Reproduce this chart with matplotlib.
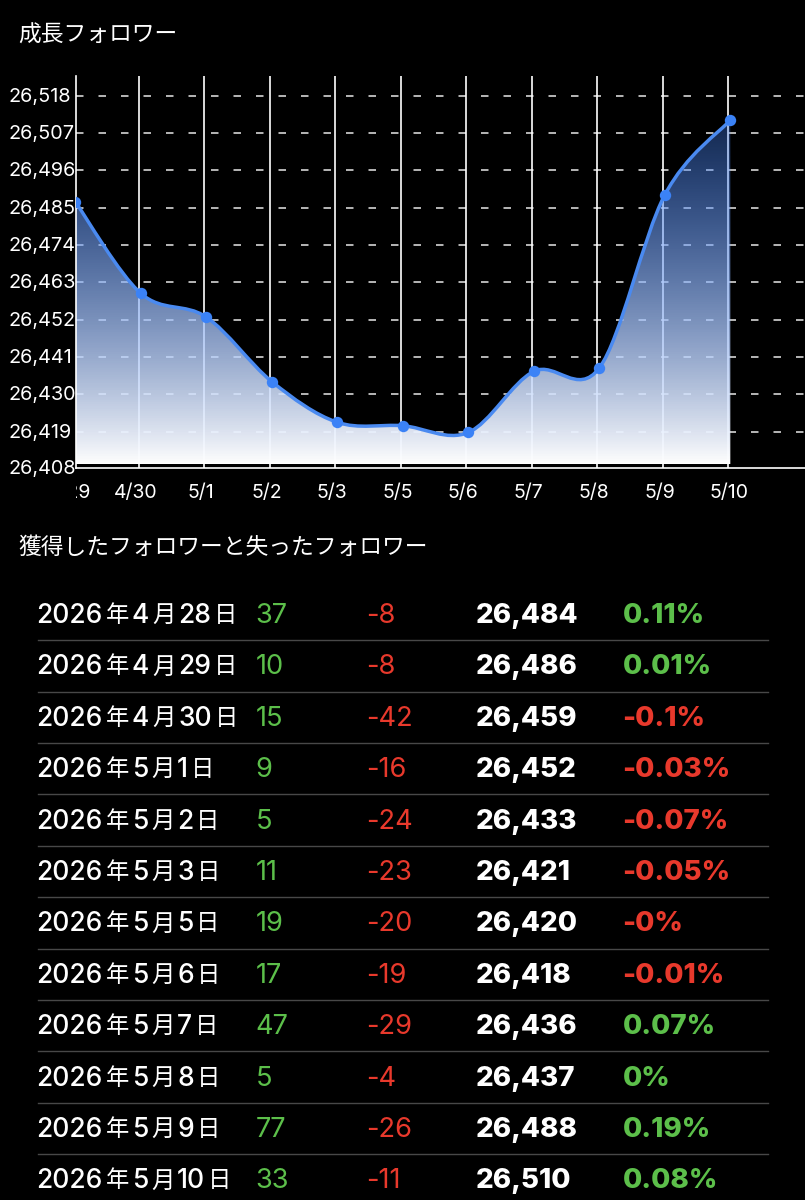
import numpy as np
import matplotlib
matplotlib.use("Agg")
import matplotlib.pyplot as plt
from matplotlib.path import Path
from matplotlib.patches import PathPatch
from matplotlib.transforms import Bbox

plt.rcParams['font.family'] = ['Inter', 'Noto Sans CJK JP', 'DejaVu Sans']
plt.rcParams['lines.scale_dashes'] = False

W, H = 805, 1200

# table rows
months = [4, 4, 4, 5, 5, 5, 5, 5, 5, 5, 5, 5]
days = [28, 29, 30, 1, 2, 3, 5, 6, 7, 8, 9, 10]
gained = [37, 10, 15, 9, 5, 11, 19, 17, 47, 5, 77, 33]
lost = [-8, -8, -42, -16, -24, -23, -20, -19, -29, -4, -26, -11]
totals = [26484, 26486, 26459, 26452, 26433, 26421, 26420, 26418, 26436, 26437, 26488, 26510]
pct = ["0.11%", "0.01%", "-0.1%", "-0.03%", "-0.07%", "-0.05%", "-0%", "-0.01%", "0.07%", "0%", "0.19%", "0.08%"]

# chart
day_labels = ["4/29", "4/30", "5/1", "5/2", "5/3", "5/5", "5/6", "5/7", "5/8", "5/9", "5/10"]
followers = totals[1:]
tick_labels = ["26,518", "26,507", "26,496", "26,485", "26,474", "26,463", "26,452", "26,441", "26,430", "26,419", "26,408"]
tick_values = [26517.2, 26506.2, 26495.2, 26484.2, 26473.2, 26462.2, 26451.2, 26440.2, 26429.2, 26418.2, 26407.2]

BLUE = "#3b82f6"
GREEN = "#5cbf4a"
RED = "#e8392c"
YMIN, YMAX = 26407.54, 26523.0
XMIN, XMAX = 0.012, 11.14
BASE = 26408.6


def smooth_path(xs, ys, baseline=None):
    # catmull-rom as bezier segments
    verts = [(xs[0], ys[0])]
    codes = [Path.MOVETO]
    n = len(xs)
    for i in range(n - 1):
        x0, y0 = xs[max(i - 1, 0)], ys[max(i - 1, 0)]
        x1, y1 = xs[i], ys[i]
        x2, y2 = xs[i + 1], ys[i + 1]
        x3, y3 = xs[min(i + 2, n - 1)], ys[min(i + 2, n - 1)]
        verts += [(x1 + (x2 - x0) / 6, y1 + (y2 - y0) / 6),
                  (x2 - (x3 - x1) / 6, y2 - (y3 - y1) / 6),
                  (x2, y2)]
        codes += [Path.CURVE4] * 3
    if baseline is not None:
        verts += [(xs[-1], baseline), (xs[0], baseline), (xs[0], ys[0])]
        codes += [Path.LINETO, Path.LINETO, Path.CLOSEPOLY]
    return Path(verts, codes)


def draw_date(y, parts):
    # digits and kanji have different sizes in the reference, so place piece by piece
    cx = 36.5
    for s, is_kanji in parts:
        if is_kanji:
            t_ = ov.text(cx, y - 0.5, s, color="white", fontsize=16.8, va="center", family="Noto Sans CJK JP")
        else:
            t_ = ov.text(cx, y, s, color="white", fontsize=19, va="center", family="Inter", fontweight="medium")
        ext = t_.get_window_extent(renderer)
        cx = ext.x1 + 2.8


fig = plt.figure(figsize=(W / 100, H / 100), dpi=100, facecolor="black")
renderer = fig.canvas.get_renderer()

ax = fig.add_axes([76 / W, 1 - 468 / H, (W - 76) / W, (468 - 76) / H], facecolor="black")
ax.set_xlim(XMIN, XMAX)
ax.set_ylim(YMIN, YMAX)
ax.set_xticks([])
ax.set_yticks([])
for side in ["top", "right"]:
    ax.spines[side].set_visible(False)
for side in ["left", "bottom"]:
    ax.spines[side].set_color("white")
    ax.spines[side].set_linewidth(1.2)

x = np.arange(len(followers))

# grid
for v in tick_values[:-1]:
    ax.plot([XMIN, XMAX], [v, v], color="#e8e8e8", lw=1.1, ls=(0, (5.4, 10.8)), dash_capstyle="butt", zorder=1)
ax.vlines(x[1:] - 0.03, YMIN, YMAX, color="white", lw=1.2, zorder=1)

xs = list(x)
curve = smooth_path(xs, followers)
area = smooth_path(xs, followers, baseline=BASE)

# gradient fill, see-through at the top so the grid shows
grad = np.zeros((256, 1, 4))
t = np.linspace(0, 1, 256)[:, None]
grad[..., 0] = 0.25 + 0.75 * t ** 1.2
grad[..., 1] = 0.50 + 0.50 * t ** 1.2
grad[..., 2] = 0.96 + 0.04 * t
grad[..., 3] = 0.30 + 0.70 * t ** 0.8
im = ax.imshow(grad, extent=[0, 11, BASE, max(followers)], aspect="auto", origin="upper", zorder=2)
im.set_clip_path(PathPatch(area, transform=ax.transData))
ax.set_xlim(XMIN, XMAX)
ax.set_ylim(YMIN, YMAX)

ax.add_patch(PathPatch(curve, fc="none", ec="#4a8af0", lw=2.5, zorder=3))
ax.plot(x, followers, "o", color=BLUE, ms=8.2, mew=0, zorder=4)

# y labels, left aligned
ytrans = ax.get_yaxis_transform()
for v, lab in zip(tick_values, tick_labels):
    ypos = max(v, YMIN) - 0.3
    ax.text(-68 / 729, ypos, lab, transform=ytrans, color="white", fontsize=14.3, ha="left", va="center", clip_on=False)

# x labels, first one gets cut by the axis
xtrans = ax.get_xaxis_transform()
clip = Bbox([[76, 0], [W, H]])
for i, lab in enumerate(day_labels):
    xpos = i - 0.08 + (0.06 if lab == "5/10" else 0)
    t_ = ax.text(xpos, -25 / 392, lab, transform=xtrans, color="white", fontsize=14, ha="center", va="center")
    t_.set_clip_on(True)
    t_.set_clip_box(clip)

# overlay for titles + table, pixel coords
ov = fig.add_axes([0, 0, 1, 1], facecolor="none")
ov.set_xlim(0, W)
ov.set_ylim(H, 0)
ov.axis("off")

ov.text(18, 35, "成長フォロワー", color="white", fontsize=16.4, va="center", family="Noto Sans CJK JP")
ov.text(18, 547, "獲得したフォロワーと失ったフォロワー", color="white", fontsize=16.4, va="center", family="Noto Sans CJK JP")

row_h = 51.4
for i in range(len(days)):
    y = 616 + i * row_h
    draw_date(y, [("2026", False), ("年", True), (str(months[i]), False), ("月", True), (str(days[i]), False), ("日", True)])
    ov.text(255.5, y, str(gained[i]), color=GREEN, fontsize=19.6, va="center")
    ov.text(366, y, str(lost[i]), color=RED, fontsize=19.6, va="center")
    ov.text(476, y, f"{totals[i]:,}", color="white", fontsize=20, fontweight="heavy", va="center")
    col = RED if pct[i].startswith("-") else GREEN
    ov.text(622.5, y, pct[i], color=col, fontsize=20, fontweight="heavy", va="center")
    if i < len(days) - 1:
        ov.plot([38, 768], [y + 24.2, y + 24.2], color="#484848", lw=1)

fig.savefig("out.png", dpi=100, facecolor="black")
